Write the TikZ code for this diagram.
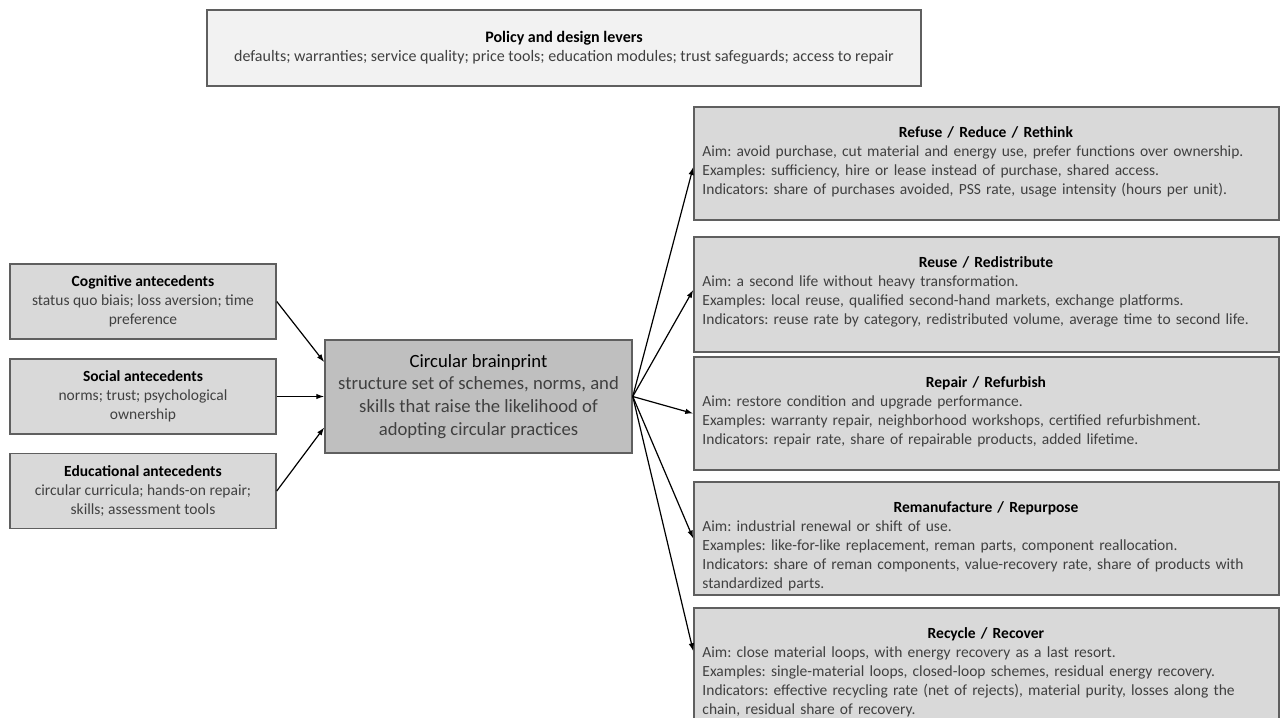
\documentclass[tikz,border=0pt]{standalone}
\usepackage{fontspec}
\setmainfont{Carlito}
\usetikzlibrary{arrows.meta,calc}
\definecolor{bordc}{HTML}{5F5F5F}
\definecolor{tfill}{HTML}{F2F2F2}
\definecolor{lfill}{HTML}{D9D9D9}
\definecolor{cfill}{HTML}{BFBFBF}
\definecolor{bodyc}{HTML}{404040}
\newcommand{\ttl}[1]{\textcolor{black}{\bfseries #1}}
\newcommand{\fstrut}{\rule{0pt}{14pt}}
\frenchspacing
\begin{document}
\begin{tikzpicture}[x=1pt,y=-1pt,
  box/.style={draw=bordc, line width=1.5pt, inner sep=0pt, rectangle},
  bodyfont/.style={text=bodyc, font=\fontsize{15.5}{19}\selectfont},
  lbox/.style={box, fill=lfill, minimum width=266pt, minimum height=75pt, align=center, bodyfont},
  rbox/.style={box, fill=lfill, minimum width=585pt},
  rtext/.style={anchor=north west, inner sep=0pt, text width=567pt, align=left, bodyfont},
  arr/.style={-{Latex[length=8pt,width=5.5pt]}, line width=1.2pt, black}]
\useasboundingbox (0,0) rectangle (1281,717);
\clip (0,0) rectangle (1281,717);
\fill[white] (0,0) rectangle (1281,717);

% top box
\node[box, fill=tfill, minimum width=714pt, minimum height=76pt, align=center, text=bodyc,
  font=\fontsize{16}{19.5}\selectfont] (top) at (564,48)
  {\ttl{Policy and design levers}\\defaults; warranties; service quality; price tools; education modules; trust safeguards; access to repair};

% left boxes
\node[lbox] (cog) at (143,301.5) {\ttl{Cognitive antecedents}\\status quo biais; loss aversion; time\\preference};
\node[lbox] (soc) at (143,396.5) {\ttl{Social antecedents}\\norms; trust; psychological\\ownership};
\node[lbox] (edu) at (143,491) {\ttl{Educational antecedents}\\circular curricula; hands-on repair;\\skills; assessment tools};

% center box
\node[box, fill=cfill, minimum width=307pt, minimum height=113pt, align=center, text=bodyc,
  font=\fontsize{18.67}{22.8}\selectfont] (brain) at (478.5,396.5)
  {\textcolor{black}{Circular brainprint}\\structure set of schemes, norms, and\\skills that raise the likelihood of\\adopting circular practices};

% right boxes
\node[rbox, minimum height=113pt] (r1) at (986.5,163.5) {};
\node[rbox, minimum height=115pt] (r2) at (986.5,294.5) {};
\node[rbox, minimum height=113pt] (r3) at (986.5,413.5) {};
\node[rbox, minimum height=113pt] (r4) at (986.5,538.5) {};
\node[rbox, minimum height=130pt] (r5) at (986.5,673) {};

\node[rtext] (r1t) at ([xshift=9pt,yshift=-17pt]r1.north west)
  {\makebox[567pt][c]{\fstrut\ttl{Refuse / Reduce / Rethink}}\\
   Aim: avoid purchase, cut material and energy use, prefer functions over ownership.\\
   Examples: sufficiency, hire or lease instead of purchase, shared access.\\
   Indicators: share of purchases avoided, PSS rate, usage intensity (hours per unit).};
\node[rtext] (r2t) at ([xshift=9pt,yshift=-17pt]r2.north west)
  {\makebox[567pt][c]{\fstrut\ttl{Reuse / Redistribute}}\\
   Aim: a second life without heavy transformation.\\
   Examples: local reuse, qualified second-hand markets, exchange platforms.\\
   Indicators: reuse rate by category, redistributed volume, average time to second life.};
\node[rtext] (r3t) at ([xshift=9pt,yshift=-17pt]r3.north west)
  {\makebox[567pt][c]{\fstrut\ttl{Repair / Refurbish}}\\
   Aim: restore condition and upgrade performance.\\
   Examples: warranty repair, neighborhood workshops, certified refurbishment.\\
   Indicators: repair rate, share of repairable products, added lifetime.};
\node[rtext] (r4t) at ([xshift=9pt,yshift=-17pt]r4.north west)
  {\makebox[567pt][c]{\fstrut\ttl{Remanufacture / Repurpose}}\\
   Aim: industrial renewal or shift of use.\\
   Examples: like-for-like replacement, reman parts, component reallocation.\\
   Indicators: share of reman components, value-recovery rate, share of products with\\
   standardized parts.};
\node[rtext] (r5t) at ([xshift=9pt,yshift=-17pt]r5.north west)
  {\makebox[567pt][c]{\fstrut\ttl{Recycle / Recover}}\\
   Aim: close material loops, with energy recovery as a last resort.\\
   Examples: single-material loops, closed-loop schemes, residual energy recovery.\\
   Indicators: effective recycling rate (net of rejects), material purity, losses along the\\
   chain, residual share of recovery.};

% arrows left -> center
\draw[arr] (cog.east) -- ($(brain.north west)!0.2!(brain.south west)$);
\draw[arr] (soc.east) -- (brain.west);
\draw[arr] (edu.east) -- ($(brain.north west)!0.77!(brain.south west)$);

% arrows center -> right
\draw[arr] (brain.east) -- ($(r1.north west)!0.53!(r1.south west)$);
\draw[arr] (brain.east) -- ($(r2.north west)!0.46!(r2.south west)$);
\draw[arr] (brain.east) -- (r3.west);
\draw[arr] (brain.east) -- (r4.west);
\draw[arr] (brain.east) -- ([yshift=-44pt]r5.north west);
\end{tikzpicture}
\end{document}
